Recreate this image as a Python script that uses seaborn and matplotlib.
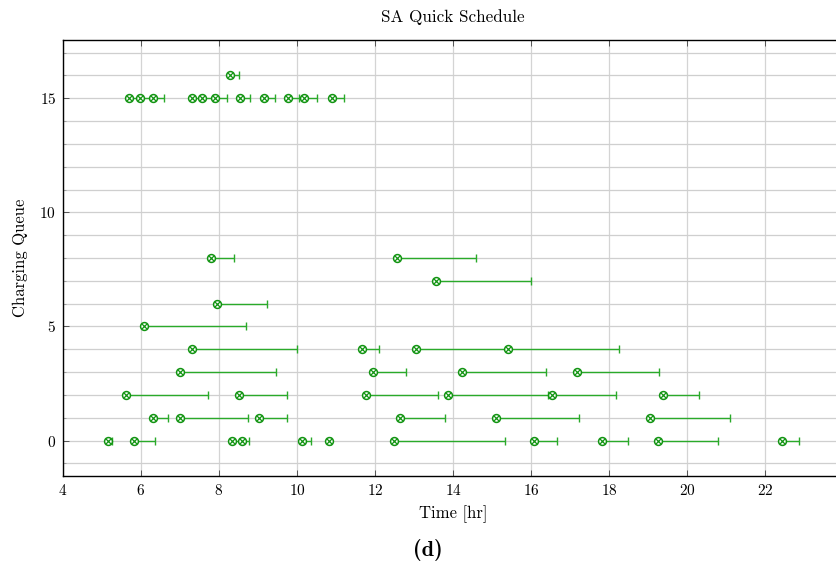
import numpy as np
import pandas as pd
import matplotlib
matplotlib.use("Agg")
import matplotlib.pyplot as plt
import seaborn as sns
from matplotlib.ticker import MultipleLocator

# ---- data ----
queue = [16,
         15, 15, 15, 15, 15, 15, 15, 15, 15, 15, 15,
         8, 8,
         7,
         6,
         5,
         4, 4, 4, 4,
         3, 3, 3, 3,
         2, 2, 2, 2, 2, 2,
         1, 1, 1, 1, 1, 1,
         0, 0, 0, 0, 0, 0, 0, 0, 0, 0, 0]
start_hr = [8.28,
            5.70, 5.97, 6.32, 7.32, 7.56, 7.90, 8.54, 9.15, 9.78, 10.19, 10.91,
            7.79, 12.57,
            13.56,
            7.94,
            6.08,
            7.32, 11.66, 13.05, 15.40,
            6.99, 11.94, 14.22, 17.18,
            5.62, 8.51, 11.77, 13.87, 16.53, 19.38,
            6.32, 6.99, 9.02, 12.63, 15.11, 19.04,
            5.16, 5.82, 8.33, 8.60, 10.13, 10.83, 12.49, 16.07, 17.82, 19.26, 22.44]
end_hr = [8.52,
          5.95, 6.30, 6.59, 7.54, 7.84, 8.20, 8.79, 9.44, 10.04, 10.50, 11.21,
          8.38, 14.59,
          16.00,
          9.23,
          8.70,
          10.01, 12.09, 15.38, 18.25,
          9.45, 12.79, 16.38, 19.29,
          7.72, 9.74, 13.62, 16.43, 18.19, 20.32,
          6.70, 8.74, 9.75, 13.79, 17.22, 21.11,
          5.25, 6.35, 8.58, 8.77, 10.35, 10.88, 15.34, 16.66, 18.49, 20.79, 22.86]

title = "SA Quick Schedule"
xlabel = "Time [hr]"
ylabel = "Charging Queue"
caption = "(d)"

df = pd.DataFrame({"queue": queue, "start": start_hr, "end": end_hr})
df["dur"] = df["end"] - df["start"]

sns.set_theme(style="white")
plt.rcParams["font.family"] = ["cmr10", "DejaVu Serif"]
plt.rcParams["axes.formatter.use_mathtext"] = True
plt.rcParams["mathtext.fontset"] = "cm"
plt.rcParams["text.color"] = "black"
plt.rcParams["axes.labelcolor"] = "black"
plt.rcParams["xtick.labelcolor"] = "black"
plt.rcParams["ytick.labelcolor"] = "black"

line_col = "#2aaa2a"
mark_col = "#129412"

fig = plt.figure(figsize=(8.36, 5.67), dpi=100)
ax = fig.add_axes([63 / 836, 1 - 476 / 567, (843 - 63) / 836, (476 - 40) / 567])

ax.errorbar(df["start"], df["queue"],
            xerr=[np.zeros(len(df)), df["dur"].values],
            fmt="none", ecolor=line_col, elinewidth=1.0, capsize=3.2,
            capthick=1.0, zorder=3)
sns.scatterplot(data=df, x="start", y="queue", ax=ax, marker="o",
                s=32, facecolor="white", edgecolor=mark_col, linewidth=1.1,
                zorder=4, legend=False)
sns.scatterplot(data=df, x="start", y="queue", ax=ax, marker="x",
                s=15, color=mark_col, linewidth=0.9, zorder=5, legend=False)

ax.set_xlim(4, 24)
ax.set_ylim(-1.55, 17.55)
ax.yaxis.set_major_locator(MultipleLocator(5))
ax.yaxis.set_minor_locator(MultipleLocator(1))
ax.set_xticks(np.arange(4, 23, 2))

ax.grid(True, which="major", axis="x", color="#d4d4d4", linewidth=0.9)
ax.grid(True, which="both", axis="y", color="#cfcfcf", linewidth=0.9)
ax.set_axisbelow(True)

for s in ax.spines.values():
    s.set_color("black")
    s.set_linewidth(1.0)

ax.tick_params(axis="both", which="major", direction="in", length=4,
               width=0.7, color="#555555", labelsize=11, labelcolor="black",
               top=True, left=True, bottom=True, right=False, pad=5)
ax.tick_params(axis="y", which="minor", direction="in", length=2.5,
               width=0.6, color="#999999", left=True)

ax.set_xlabel(xlabel, fontsize=12, labelpad=5, color="black")
ax.set_ylabel(ylabel, fontsize=12, labelpad=8, color="black")
ax.set_title(title, fontsize=12.3, pad=13, color="black")

fig.text(428 / 836, 1 - 550 / 567, caption, ha="center", va="center",
         fontsize=16, family=["cmb10", "DejaVu Serif"], fontweight="bold",
         color="black")

fig.savefig("out.png", dpi=100)
